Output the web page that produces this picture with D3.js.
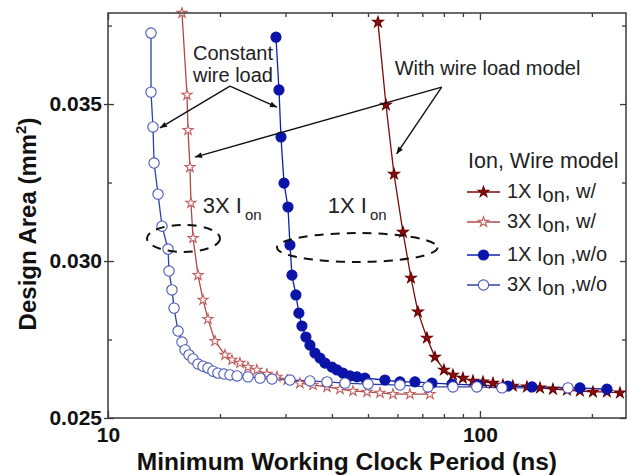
<!DOCTYPE html>
<html>
<head>
<meta charset="utf-8">
<script src="https://cdn.jsdelivr.net/npm/d3@7"></script>
<style>
  html, body { margin: 0; padding: 0; background: #fff; }
  svg { display: block; }
  text { font-family: Arial, "Liberation Sans", sans-serif; }
</style>
</head>
<body>
<svg id="chart" width="630" height="475"></svg>
<script>
// Clock period (ns) and design area (mm^2) for each Ion / wire-model combination
const p1xWith = [53.19, 55.89, 58.74, 62.09, 65.25, 68.12, 72.02, 75.68, 80.03, 84.63, 90.0, 95.76, 101.9, 108.4, 115.3, 122.6, 133.8, 145.0, 157.1, 171.4, 185.7, 201.3, 219.5, 237.9];
const a1xWith = [0.03761, 0.03497, 0.03277, 0.03092, 0.02946, 0.02838, 0.02755, 0.02694, 0.02653, 0.02637, 0.02627, 0.02618, 0.02615, 0.02611, 0.02605, 0.02602, 0.02599, 0.02596, 0.02592, 0.02589, 0.02586, 0.02583, 0.02583, 0.0258];

const p3xWith = [15.81, 16.31, 16.41, 16.61, 16.71, 16.93, 17.46, 18.01, 18.57, 19.40, 20.63, 21.54, 22.63, 23.79, 25.14, 26.75, 28.47, 30.29, 32.81, 35.57, 38.80, 42.04, 45.57, 49.69, 53.86, 58.37, 64.84, 73.39];
const a3xWith = [0.0379, 0.03529, 0.03417, 0.03299, 0.03185, 0.03073, 0.02955, 0.02876, 0.02815, 0.02745, 0.02701, 0.02685, 0.02675, 0.02662, 0.02653, 0.0264, 0.02631, 0.02621, 0.02611, 0.02605, 0.02599, 0.02592, 0.02586, 0.02583, 0.0258, 0.02576, 0.02576, 0.02576];

const p1xWithout = [28.29, 28.82, 29.18, 29.73, 30.47, 30.85, 31.23, 32.0, 32.6, 33.22, 34.05, 34.91, 36.01, 37.14, 38.31, 40.01, 41.27, 42.83, 44.72, 46.70, 49.06, 55.54, 60.95, 66.88, 74.30, 84.09, 98.76, 118.9, 138.0, 185.7, 219.5];
const a1xWithout = [0.03713, 0.03545, 0.03395, 0.03248, 0.03172, 0.03051, 0.02955, 0.02892, 0.02834, 0.02793, 0.02758, 0.02732, 0.02707, 0.02691, 0.02675, 0.02662, 0.02653, 0.02643, 0.02634, 0.02631, 0.02627, 0.02621, 0.02615, 0.02615, 0.02611, 0.02608, 0.02605, 0.02602, 0.02599, 0.02596, 0.02592];

const p3xWithout = [13.05, 13.05, 13.21, 13.30, 13.63, 13.97, 14.50, 14.59, 14.86, 15.05, 15.43, 15.81, 16.11, 16.51, 16.93, 17.46, 18.01, 18.57, 19.15, 19.75, 20.50, 21.28, 22.23, 23.79, 25.63, 27.60, 30.85, 34.91, 38.80, 43.37, 50.02, 60.95, 72.47, 84.63, 98.1, 114.6, 172.5];
const a3xWithout = [0.03726, 0.03538, 0.03427, 0.03312, 0.03213, 0.03111, 0.03038, 0.02968, 0.02908, 0.0285, 0.02777, 0.02742, 0.02717, 0.02701, 0.02688, 0.02672, 0.02665, 0.02659, 0.02649, 0.02643, 0.0264, 0.02637, 0.02634, 0.02631, 0.02627, 0.02624, 0.02621, 0.02618, 0.02615, 0.02611, 0.02608, 0.02605, 0.02599, 0.02599, 0.02599, 0.02596, 0.02596];

// Axis ticks
const xMajorTicks = [10, 100];
const xMinorTicks = [20, 30, 40, 50, 60, 70, 80, 90, 200];
const yMajorTicks = [0.025, 0.030, 0.035];
const yMinorTicks = [0.0275, 0.0325, 0.0375];

// Legend entries: label parts are [prefix, subscript, suffix]
const seriesLabels = [
  ["1X I", "on", ", w/"],
  ["3X I", "on", ", w/"],
  ["1X I", "on", " ,w/o"],
  ["3X I", "on", " ,w/o"]
];

const width = 630, height = 475;
const margin = { left: 108, top: 13, right: 4, bottom: 57 };
const iw = width - margin.left - margin.right;
const ih = height - margin.top - margin.bottom;

const x = d3.scaleLog().domain([10, 247]).range([0, iw]);
const y = d3.scaleLinear().domain([0.025, 0.0379]).range([ih, 0]);

const svg = d3.select("#chart");
const g = svg.append("g").attr("transform", `translate(${margin.left},${margin.top})`);

const zip = (xs, ys) => xs.map((v, i) => [v, ys[i]]);

const series = [
  { key: "1x-w", pts: zip(p1xWith, a1xWith), line: "#7a0a0a", sym: d3.symbolStar, size: 36, fill: "#8b0e0e", stroke: "#6a0000" },
  { key: "3x-w", pts: zip(p3xWith, a3xWith), line: "#b04848", sym: d3.symbolStar, size: 32, fill: "#ffffff", stroke: "#c06060" },
  { key: "1x-wo", pts: zip(p1xWithout, a1xWithout), line: "#1020a8", sym: d3.symbolCircle, size: 80, fill: "#0a14a8", stroke: "#0a14a8" },
  { key: "3x-wo", pts: zip(p3xWithout, a3xWithout), line: "#3040a8", sym: d3.symbolCircle, size: 84, fill: "#ffffff", stroke: "#4a58b8" }
];

const line = d3.line().x(d => x(d[0])).y(d => y(d[1]));

// Series lines and markers
series.forEach(s => {
  g.append("path").datum(s.pts)
    .attr("d", line)
    .attr("fill", "none")
    .attr("stroke", s.line)
    .attr("stroke-width", 1.3);
});
series.forEach(s => {
  g.append("g").selectAll("path").data(s.pts).join("path")
    .attr("transform", d => `translate(${x(d[0])},${y(d[1])})`)
    .attr("d", d3.symbol().type(s.sym).size(s.size))
    .attr("fill", s.fill)
    .attr("stroke", s.stroke)
    .attr("stroke-width", 1.1);
});

// Frame
const frameColor = "#3a3a3a";
g.append("rect").attr("x", 0).attr("y", 0).attr("width", iw).attr("height", ih)
  .attr("fill", "none").attr("stroke", frameColor).attr("stroke-width", 1.5);

// Bottom axis (ticks pointing inward) and mirrored top ticks
const xb = g.append("g").attr("transform", `translate(0,${ih})`)
  .call(d3.axisBottom(x).tickValues(xMajorTicks).tickSize(-7).tickPadding(12).tickFormat(d3.format("d")));
const xbm = g.append("g").attr("transform", `translate(0,${ih})`)
  .call(d3.axisBottom(x).tickValues(xMinorTicks).tickSize(-4).tickFormat(""));
const xt = g.append("g")
  .call(d3.axisTop(x).tickValues(xMajorTicks).tickSize(-7).tickFormat(""));
const xtm = g.append("g")
  .call(d3.axisTop(x).tickValues(xMinorTicks).tickSize(-4).tickFormat(""));

// Left axis and mirrored right ticks
const yl = g.append("g")
  .call(d3.axisLeft(y).tickValues(yMajorTicks).tickSize(4).tickPadding(2).tickFormat(d3.format(".3f")));
yl.selectAll(".tick line").attr("x1", 6);
const ylm = g.append("g")
  .call(d3.axisLeft(y).tickValues(yMinorTicks).tickSize(-4).tickFormat(""));
const yr = g.append("g").attr("transform", `translate(${iw},0)`)
  .call(d3.axisRight(y).tickValues(yMajorTicks).tickSize(-6).tickFormat(""));
const yrm = g.append("g").attr("transform", `translate(${iw},0)`)
  .call(d3.axisRight(y).tickValues(yMinorTicks).tickSize(-4).tickFormat(""));

[xb, xbm, xt, xtm, yl, ylm, yr, yrm].forEach(a => {
  a.select(".domain").remove();
  a.selectAll(".tick line").attr("stroke", frameColor).attr("stroke-width", 1.3);
  a.selectAll("text")
    .attr("fill", "#111")
    .attr("font-family", "Arial, 'Liberation Sans', sans-serif")
    .attr("font-weight", "bold")
    .attr("font-size", 21);
});
xb.selectAll("text").attr("dy", "0.55em");

// Axis titles
svg.append("text")
  .attr("x", margin.left + x(43.9)).attr("y", 470)
  .attr("text-anchor", "middle")
  .attr("font-weight", "bold").attr("font-size", 24.5).attr("fill", "#111")
  .text("Minimum Working Clock Period (ns)");

const yTitle = svg.append("text")
  .attr("transform", `translate(36,${margin.top + y(0.03118)}) rotate(-90)`)
  .attr("text-anchor", "middle")
  .attr("font-weight", "bold").attr("font-size", 24).attr("fill", "#111");
yTitle.append("tspan").text("Design Area (mm");
yTitle.append("tspan").attr("font-size", 15).attr("dy", -10).text("2");
yTitle.append("tspan").attr("dy", 10).text(")");

// Annotations (data coordinates)
const defs = svg.append("defs");
defs.append("marker").attr("id", "arrow")
  .attr("viewBox", "0 0 10 10").attr("refX", 10).attr("refY", 5)
  .attr("markerWidth", 9).attr("markerHeight", 7).attr("markerUnits", "userSpaceOnUse")
  .attr("orient", "auto")
  .append("path").attr("d", "M0,1 L10,5 L0,9 Z").attr("fill", "#111");

const annoText = [
  { t: "Constant", px: 16.92, a: 0.03640 },
  { t: "wire load", px: 16.92, a: 0.03570 },
  { t: "With wire load model", px: 59.0, a: 0.03592 }
];
g.selectAll("text.anno").data(annoText).join("text")
  .attr("class", "anno")
  .attr("x", d => x(d.px)).attr("y", d => y(d.a))
  .attr("font-size", 20).attr("fill", "#222")
  .text(d => d.t);

const arrows = [
  { from: [21.28, 0.03557], to: [13.79, 0.03424] },
  { from: [21.28, 0.03557], to: [28.47, 0.03490] },
  { from: [78.9, 0.03554], to: [17.13, 0.03331] },
  { from: [78.9, 0.03554], to: [59.7, 0.03341] }
];
g.selectAll("line.arrow").data(arrows).join("line")
  .attr("class", "arrow")
  .attr("x1", d => x(d.from[0])).attr("y1", d => y(d.from[1]))
  .attr("x2", d => x(d.to[0])).attr("y2", d => y(d.to[1]))
  .attr("stroke", "#111").attr("stroke-width", 1.4)
  .attr("marker-end", "url(#arrow)");

// Ion group labels
const groupLabels = [
  { pre: "3X I", sub: "on", px: 17.99, a: 0.03153 },
  { pre: "1X I", sub: "on", px: 39.0, a: 0.03153 }
];
groupLabels.forEach(d => {
  const t = g.append("text").attr("x", x(d.px)).attr("y", y(d.a))
    .attr("font-size", 22).attr("fill", "#222");
  t.append("tspan").text(d.pre);
  t.append("tspan").attr("font-size", 15).attr("dy", 7).attr("dx", 3).text(d.sub);
});

// Dashed ellipses around the two groups
const ellipses = [
  { x0: 12.73, x1: 20.0, a0: 0.03029, a1: 0.03115 },
  { x0: 28.47, x1: 76.9, a0: 0.02997, a1: 0.03089 }
];
g.selectAll("ellipse").data(ellipses).join("ellipse")
  .attr("cx", d => (x(d.x0) + x(d.x1)) / 2)
  .attr("cy", d => (y(d.a0) + y(d.a1)) / 2)
  .attr("rx", d => (x(d.x1) - x(d.x0)) / 2)
  .attr("ry", d => (y(d.a0) - y(d.a1)) / 2)
  .attr("fill", "none").attr("stroke", "#111").attr("stroke-width", 2)
  .attr("stroke-dasharray", "9,7");

// Legend
const lg = svg.append("g").attr("transform", "translate(467,168)");
lg.append("text").attr("x", 1).attr("y", 0).attr("font-size", 21.5).attr("fill", "#222")
  .text("Ion, Wire model");
const rowY = [24, 54, 87, 117];
series.forEach((s, i) => {
  const r = lg.append("g").attr("transform", `translate(0,${rowY[i]})`);
  r.append("line").attr("x1", 0).attr("x2", 33).attr("y1", 0).attr("y2", 0)
    .attr("stroke", s.line).attr("stroke-width", 1.4);
  r.append("path").attr("transform", "translate(16.5,0)")
    .attr("d", d3.symbol().type(s.sym).size(s.size))
    .attr("fill", s.fill).attr("stroke", s.stroke).attr("stroke-width", 1.1);
  const lab = seriesLabels[i];
  const t = r.append("text").attr("x", 40).attr("y", 6).attr("font-size", 20).attr("fill", "#222");
  t.append("tspan").text(lab[0]);
  t.append("tspan").attr("dy", 4).text(lab[1]);
  t.append("tspan").attr("dy", -4).text(lab[2]);
});
</script>
</body>
</html>
